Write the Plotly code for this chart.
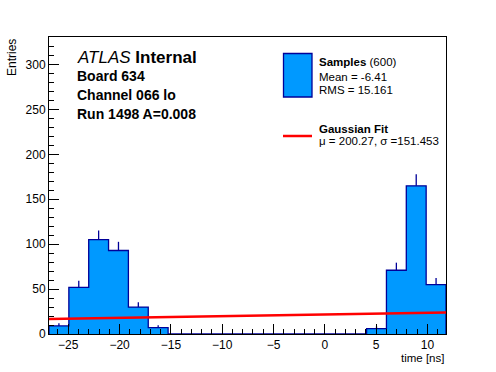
import numpy as np
import plotly.graph_objects as go

# ---- data ----
x_min = -26.875
x_max = 11.81
n_bins = 20
counts = [9, 52, 105, 93, 30, 7, 0, 0, 0, 0, 0, 0, 0, 0, 0, 0, 6, 71, 165, 55]
fit_mu = 200.27
fit_sigma = 151.453
fit_amplitude = 51.8
x_ticks = [-25, -20, -15, -10, -5, 0, 5, 10]
y_ticks = [0, 50, 100, 150, 200, 250, 300]
y_max = 330.7

info_lines = ["Board 634", "Channel 066 lo", "Run 1498 A=0.008"]
legend_hist_title = "Samples"
legend_hist_n = "(600)"
legend_mean = "Mean = -6.41"
legend_rms = "RMS = 15.161"
legend_fit_title = "Gaussian Fit"
legend_fit_params = "\u03bc = 200.27, \u03c3 =151.453"

FILL = "#0099ff"
EDGE = "#000099"
RED = "#ff0000"
FONT = "Liberation Sans, Arial, sans-serif"

W, H = 496, 372
L, R, T, B = 49, 50, 37, 38
PW = W - L - R
PH = H - T - B


def px(xp):
    return (xp - L) / PW


def py(yp):
    return (H - B - yp) / PH


edges = np.linspace(x_min, x_max, n_bins + 1)
centers = 0.5 * (edges[:-1] + edges[1:])
cnt = np.array(counts, dtype=float)

# step outline
sx = [edges[0]] + list(edges[:-1]) + [edges[-1], edges[-1]]
sy = [0] + list(cnt) + [cnt[-1], 0]

fig = go.Figure()
fig.add_trace(go.Scatter(
    x=sx, y=sy, mode="lines", line=dict(shape="hv", color=EDGE, width=1.3),
    fill="tozeroy", fillcolor=FILL, hoverinfo="skip", showlegend=False))

# error bars (upper part)
ex, ey = [], []
for c, n in zip(centers, cnt):
    if n > 0:
        ex += [c, c, None]
        ey += [n, n + np.sqrt(n), None]
fig.add_trace(go.Scatter(x=ex, y=ey, mode="lines",
                         line=dict(color=EDGE, width=1.3),
                         hoverinfo="skip", showlegend=False))

# gaussian fit
fx = np.linspace(x_min, x_max, 200)
fy = fit_amplitude * np.exp(-0.5 * ((fx - fit_mu) / fit_sigma) ** 2)
fig.add_trace(go.Scatter(x=fx, y=fy, mode="lines",
                         line=dict(color=RED, width=2.5),
                         hoverinfo="skip", showlegend=False))

axis_common = dict(
    showgrid=False, zeroline=False, showline=True, linecolor="black",
    linewidth=1, mirror=True, ticks="inside", ticklen=10, tickwidth=1,
    tickcolor="black", layer="above traces",
    tickfont=dict(family=FONT, size=12, color="black"),
)

fig.update_xaxes(range=[x_min, x_max], tickvals=x_ticks,
                 minor=dict(ticks="inside", ticklen=5, dtick=1, tick0=0,
                            tickcolor="black", showgrid=False),
                 **axis_common)
fig.update_yaxes(range=[0, y_max], tickvals=y_ticks,
                 minor=dict(ticks="inside", ticklen=5, dtick=10, tick0=0,
                            tickcolor="black", showgrid=False),
                 **axis_common)

ann = []
# axis titles
ann.append(dict(text="time [ns]", x=px(446), y=py(357.5), xanchor="right",
                yanchor="middle", showarrow=False,
                font=dict(family=FONT, size=11.5, color="black")))
ann.append(dict(text="Entries", x=px(11.5), y=py(37), xanchor="center",
                yanchor="top", textangle=-90, showarrow=False,
                font=dict(family=FONT, size=12, color="black")))
# ATLAS label
ann.append(dict(text="<i>ATLAS</i> <b>Internal</b>", x=px(75), y=py(57),
                xanchor="left", yanchor="middle", showarrow=False,
                font=dict(family=FONT, size=17, color="black")))
for i, t in enumerate(info_lines):
    ann.append(dict(text="<b>%s</b>" % t, x=px(75), y=py(76 + 19 * i),
                    xanchor="left", yanchor="middle", showarrow=False,
                    font=dict(family=FONT, size=14, color="black")))
# legend texts
leg_font = dict(family=FONT, size=11.5, color="black")
ann.append(dict(text="<b>%s</b> %s" % (legend_hist_title, legend_hist_n),
                x=px(317), y=py(62), xanchor="left", yanchor="middle",
                showarrow=False, font=leg_font))
ann.append(dict(text=legend_mean, x=px(317), y=py(77), xanchor="left",
                yanchor="middle", showarrow=False, font=leg_font))
ann.append(dict(text=legend_rms, x=px(317), y=py(90), xanchor="left",
                yanchor="middle", showarrow=False, font=leg_font))
ann.append(dict(text="<b>%s</b>" % legend_fit_title, x=px(317), y=py(129),
                xanchor="left", yanchor="middle", showarrow=False,
                font=leg_font))
ann.append(dict(text=legend_fit_params, x=px(317), y=py(141),
                xanchor="left", yanchor="middle", showarrow=False,
                font=leg_font))
for a in ann:
    a["xref"] = "paper"
    a["yref"] = "paper"

shapes = [
    dict(type="rect", xref="paper", yref="paper", x0=px(283.5), x1=px(312),
         y0=py(97), y1=py(53.5), fillcolor=FILL,
         line=dict(color=EDGE, width=1.3)),
    dict(type="line", xref="paper", yref="paper", x0=px(283), x1=px(312),
         y0=py(136), y1=py(136), line=dict(color=RED, width=2.5)),
]

fig.update_layout(
    width=W, height=H, margin=dict(l=L, r=R, t=T, b=B),
    paper_bgcolor="white", plot_bgcolor="white", showlegend=False,
    font=dict(family=FONT, size=12, color="black"),
    annotations=ann, shapes=shapes,
)

fig.write_html("out.html",
               config={"displayModeBar": False},
               post_script="document.body.style.margin='0';"
                           "document.body.style.padding='0';")
